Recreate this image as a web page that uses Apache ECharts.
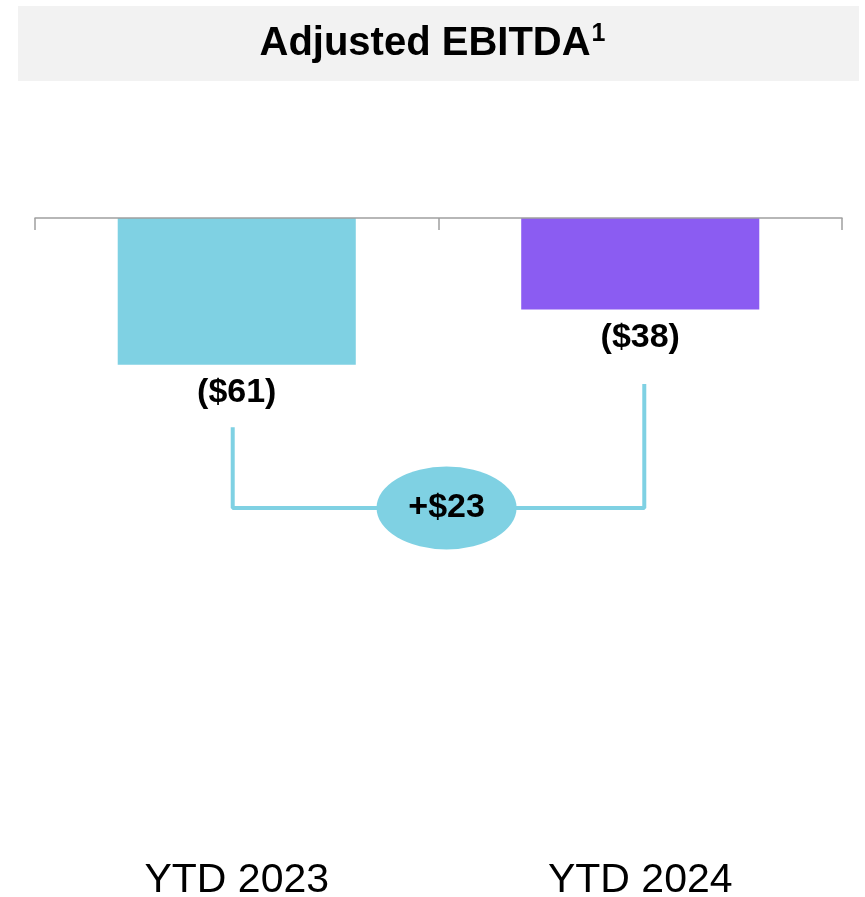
<!DOCTYPE html>
<html>
<head>
<meta charset="utf-8">
<script src="https://cdn.jsdelivr.net/npm/echarts@6/dist/echarts.min.js"></script>
<style>
  html, body { margin: 0; padding: 0; background: #fff; }
  #chart { width: 865px; height: 897px; }
</style>
</head>
<body>
<div id="chart"></div>
<script>
// data
const categories = ['YTD 2023', 'YTD 2024'];
const ebitda = [-61, -38];
const barColors = ['#7fd1e3', '#8b5cf2'];
// bracket under the bars (y levels in $) and where the bubble sits
const bracketX = [-0.01, 1.01];
const bracketStart = [-87, -69];
const bracketLevel = -120.5;
const bubblePos = 0.52;

const fmt = v => '($' + Math.abs(v) + ')';
const change = ebitda[1] - ebitda[0];

const chart = echarts.init(document.getElementById('chart'));

chart.setOption({
  animation: false,
  graphic: [{
    type: 'rect',
    shape: { x: 18, y: 6, width: 841, height: 75 },
    style: { fill: '#f2f2f2' },
    z: -1
  }],
  title: {
    text: '{t|Adjusted EBITDA}{s|1}',
    left: 'center',
    top: 17,
    textStyle: {
      rich: {
        t: { fontFamily: 'Liberation Sans', fontWeight: 'bold', fontSize: 40, color: '#000' },
        s: { fontFamily: 'Liberation Sans', fontWeight: 'bold', fontSize: 25, color: '#000', verticalAlign: 'top', padding: [0, 0, 18, 1] }
      }
    }
  },
  grid: { left: 35, right: 23, top: 218, bottom: 87, outerBoundsMode: 'none', containLabel: false },
  xAxis: [{
    type: 'category',
    data: categories,
    position: 'top',
    axisLine: { lineStyle: { color: '#a0a0a0', width: 1.5 } },
    axisTick: { show: true, interval: 0, inside: true, length: 12, lineStyle: { color: '#a0a0a0', width: 1.5 } },
    axisLabel: { show: true, interval: 0, color: 'rgba(0,0,0,0)' },
    z: 5
  }, {
    type: 'category',
    data: categories,
    position: 'bottom',
    axisLine: { show: false },
    axisTick: { show: false },
    axisLabel: { margin: 50, fontFamily: 'Liberation Sans', fontSize: 41, color: '#000' }
  }, {
    type: 'value',
    min: -0.5,
    max: 1.5,
    show: false
  }],
  yAxis: {
    type: 'value',
    min: -246,
    max: 0,
    show: false
  },
  series: [{
    type: 'bar',
    xAxisIndex: 0,
    barWidth: '59%',
    data: ebitda.map((v, i) => ({ value: v, itemStyle: { color: barColors[i] } })),
    label: {
      show: true,
      position: 'bottom',
      distance: 11,
      formatter: p => fmt(p.value),
      fontFamily: 'Liberation Sans',
      fontWeight: 'bold',
      fontSize: 34,
      color: '#000'
    }
  }, {
    type: 'line',
    xAxisIndex: 2,
    symbol: 'none',
    lineStyle: { color: '#7fd1e3', width: 4 },
    data: [[bracketX[0], bracketStart[0]], [bracketX[0], bracketLevel], [bracketX[1], bracketLevel], [bracketX[1], bracketStart[1]]],
    z: 3
  }, {
    type: 'scatter',
    xAxisIndex: 2,
    symbol: 'circle',
    symbolSize: [140, 83],
    itemStyle: { color: '#7fd1e3', opacity: 1 },
    data: [[bubblePos, bracketLevel]],
    label: {
      show: true,
      position: 'inside',
      formatter: () => '+$' + change,
      fontFamily: 'Liberation Sans',
      fontWeight: 'bold',
      fontSize: 34,
      color: '#000'
    },
    z: 4
  }]
});
</script>
</body>
</html>
